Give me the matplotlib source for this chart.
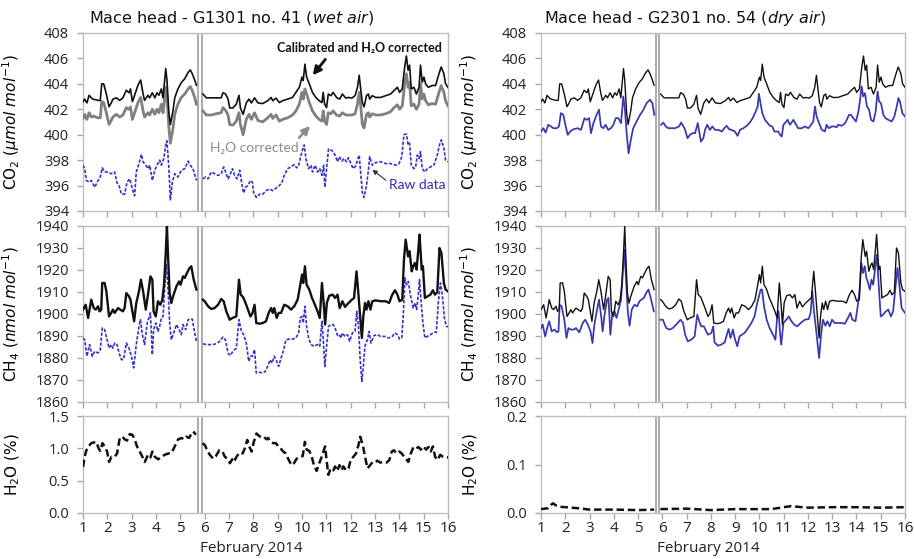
import numpy as np
import matplotlib
matplotlib.use('Agg')
import matplotlib.pyplot as plt

plt.rcParams['font.family'] = 'DejaVu Sans'

# ---------------- data (days of February 2014) ----------------
GAP = 5.78
gap_lines = [5.72, 5.88]

# CO2 calibrated + H2O corrected (same on both analysers) and wet-air H2O corrected
co2_t = [1.00, 1.07, 1.16, 1.25, 1.34, 1.41, 1.62, 1.71, 1.77, 1.85, 1.96, 2.07, 2.16, 2.23, 2.37, 2.51,
         2.64, 2.78, 2.89, 2.95, 3.03, 3.12, 3.26, 3.37, 3.47, 3.53, 3.67, 3.74, 3.85, 3.95, 4.04, 4.12,
         4.22, 4.29, 4.40, 4.45, 4.53, 4.59, 4.70, 4.77, 4.90, 5.04, 5.18, 5.32, 5.41, 5.49, 5.59, 5.66,
         5.93, 6.07, 6.27, 6.48, 6.68, 6.75, 6.86, 6.96, 7.03, 7.16, 7.30, 7.41, 7.47, 7.58, 7.71, 7.82,
         7.92, 8.05, 8.19,
         8.39, 8.59, 8.73, 8.80, 8.93, 9.07, 9.20, 9.41, 9.61, 9.75, 9.89, 10.00, 10.05, 10.12, 10.19,
         10.30, 10.43, 10.57, 10.71, 10.82, 10.87, 10.93, 11.01, 11.08, 11.19, 11.28, 11.42, 11.55,
         11.66, 11.80, 11.91, 12.05, 12.18, 12.28, 12.35, 12.42, 12.48, 12.55, 12.65, 12.73, 12.78,
         12.89, 13.03, 13.23, 13.44, 13.64, 13.78, 13.92, 14.01, 14.12, 14.22, 14.29, 14.36, 14.42,
         14.49, 14.60, 14.70, 14.81, 14.87, 14.94, 15.01, 15.08, 15.19, 15.35, 15.49, 15.63, 15.72,
         15.83, 15.90, 16.00]
co2_cal = [402.6, 402.8, 402.5, 403.1, 402.9, 402.8, 402.7, 402.7, 404.0, 404.0, 403.2, 402.2, 402.5,
           402.8, 402.9, 402.7, 402.9, 403.5, 403.3, 403.6, 402.6, 403.1, 403.9, 404.3, 403.2, 402.7,
           403.1, 402.9, 403.3, 402.9, 403.3, 403.1, 403.6, 402.9, 405.2, 404.3, 401.7, 400.8, 401.9,
           402.9, 403.6, 404.1, 404.4, 404.9, 405.1, 404.8, 404.3, 403.9,
           403.2, 402.9, 402.9, 402.9, 402.9, 403.3, 403.2, 402.8, 402.1, 402.1, 402.4, 403.1, 402.1,
           401.6, 402.5, 402.8, 402.5, 402.9, 402.5,
           402.45, 402.67, 402.93, 402.67, 402.88, 402.53, 402.67, 402.8, 402.93, 403.33,
           403.73, 404.53, 404.27, 405.55, 404.53, 404.0, 403.33, 402.93, 402.67, 402.53,
           403.33, 402.4, 402.13, 403.2, 403.07, 403.33, 402.93, 402.8, 403.2, 402.88,
           402.93, 402.88, 403.07, 403.73, 404.67, 403.47, 402.53, 402.19, 403.07, 403.2,
           402.8, 403.07, 402.93, 402.93, 403.07, 403.2, 403.47, 403.73, 403.33, 403.6,
           405.33, 406.19, 405.07, 405.47, 403.6, 403.73, 403.2, 403.73, 405.47, 404.13,
           404.53, 404.0, 403.73, 403.87, 403.87, 404.8, 405.33, 404.8, 404.0, 403.73]
co2_h2o = [401.28, 401.6, 401.2, 401.73, 401.39, 401.47, 401.33, 401.33, 402.61, 402.53,
           401.73, 400.8, 401.12, 401.39, 401.6, 401.39, 401.55, 402.13, 402.0, 402.19,
           401.2, 401.73, 402.53, 402.93, 401.87, 401.39, 401.73, 401.55, 402.0, 401.6,
           402.0, 401.73, 402.4, 401.73, 403.73, 402.93, 400.53, 399.33, 400.53, 401.6,
           402.4, 402.93, 403.2, 403.6, 403.79, 403.47, 402.93, 402.4,
           401.87, 401.55, 401.55, 401.65, 401.73, 402.13, 401.92, 401.55, 400.8, 400.75,
           401.07, 401.73, 400.8, 400.0, 401.2, 401.6, 401.2, 401.73, 401.12,
           401.01, 401.33, 401.6, 401.28, 401.55, 401.07, 401.2, 401.33, 401.55, 401.87,
           402.4, 403.33, 402.8, 403.6, 403.2, 402.53, 401.87, 401.47, 401.2, 401.07,
           401.87, 401.07, 400.8, 401.73, 401.65, 401.87, 401.55, 401.47, 401.73, 401.55,
           401.55, 401.55, 401.65, 402.4, 403.33, 402.13, 400.8, 400.53, 401.6, 401.73,
           401.39, 401.65, 401.55, 401.55, 401.65, 401.81, 402.13, 402.35, 402.0, 402.27,
           404.0, 404.8, 403.73, 404.13, 402.27, 402.4, 402.0, 402.4, 404.0, 402.8,
           403.2, 402.67, 402.35, 402.45, 402.4, 403.33, 403.87, 403.33, 402.67, 402.27]

# CO2 raw data, G1301 (wet air)
co2raw_t = [1.00, 1.07, 1.14, 1.25, 1.34, 1.48, 1.62, 1.71, 1.79, 1.89, 2.03, 2.16, 2.30, 2.40, 2.48,
            2.58, 2.71, 2.81, 2.92, 3.03, 3.12, 3.19, 3.30, 3.40, 3.47, 3.58, 3.67, 3.74, 3.85, 3.95,
            4.04, 4.15, 4.22, 4.32, 4.40, 4.45, 4.53, 4.59, 4.67, 4.77, 4.90, 5.04, 5.18, 5.32, 5.41,
            5.52, 5.66,
            5.93, 6.04, 6.14, 6.27, 6.41, 6.55, 6.68, 6.78, 6.86, 6.96, 7.03, 7.14, 7.23, 7.33, 7.44,
            7.55, 7.60, 7.68, 7.78, 7.88, 7.96, 8.01, 8.12, 8.26,
            8.39, 8.52, 8.66, 8.80, 8.93, 9.07, 9.18, 9.27, 9.41, 9.55, 9.68, 9.78, 9.86, 9.96, 10.02,
            10.09, 10.16, 10.27, 10.37, 10.43, 10.54, 10.64, 10.73, 10.82, 10.89, 10.94, 11.01, 11.09,
            11.19, 11.28, 11.36, 11.46, 11.53, 11.64, 11.73, 11.83, 11.91, 12.01, 12.10, 12.21, 12.28,
            12.35, 12.42, 12.48, 12.55, 12.65, 12.73, 12.78, 12.89, 13.03, 13.23, 13.44, 13.64, 13.85,
            13.99, 14.10, 14.19, 14.29, 14.36, 14.42, 14.49, 14.60, 14.67, 14.74, 14.81, 14.87, 14.94,
            15.05, 15.15, 15.28, 15.42, 15.56, 15.65, 15.73, 15.83, 15.90, 16.00]
co2_raw = [397.6, 397.33, 396.4, 396.27, 396.4, 395.87, 396.4, 396.67, 397.39, 397.07,
           397.07, 396.93, 397.07, 396.21, 396.0, 395.33, 395.33, 396.27, 396.53, 395.73,
           395.2, 397.07, 397.73, 398.45, 397.87, 397.6, 397.33, 397.6, 396.4, 397.2,
           397.6, 398.0, 397.6, 398.13, 399.2, 399.52, 397.33, 394.88, 396.27, 396.93,
           396.67, 397.2, 397.33, 397.92, 397.6, 397.33, 396.4,
           396.53, 396.67, 396.53, 397.07, 396.93, 396.8, 396.93, 397.47, 397.07, 396.53,
           396.8, 397.33, 396.8, 396.53, 397.2, 395.87, 395.41, 395.87, 396.0, 396.4,
           396.27, 395.47, 395.07, 395.33,
           395.33, 395.6, 395.73, 395.6, 395.79, 396.0, 396.27, 396.8, 397.33, 397.47,
           397.65, 397.39, 397.55, 398.4, 398.8, 399.2, 398.13, 397.33, 397.6, 397.07,
           397.6, 397.07, 397.33, 396.8, 397.6, 395.87, 397.33, 398.88, 398.8, 398.67,
           398.4, 397.87, 398.27, 397.92, 398.13, 397.87, 398.19, 397.73, 397.33, 397.55,
           398.0, 398.4, 396.8, 395.47, 395.07, 396.0, 397.2, 398.27, 397.6, 397.81,
           397.87, 397.73, 397.73, 397.6, 397.73, 398.27, 400.0, 400.05, 399.2, 399.33,
           397.6, 397.33, 397.47, 398.4, 398.13, 398.67, 397.33, 397.07, 397.33, 397.47,
           397.6, 398.4, 399.2, 399.6, 398.93, 398.0, 397.87]

# CO2 G2301 (dry air)
co2dry_t = [1.00, 1.10, 1.19, 1.30, 1.41, 1.51, 1.65, 1.74, 1.82, 1.92, 2.02, 2.10, 2.20, 2.33, 2.51,
            2.65, 2.79, 2.88, 2.98, 3.06, 3.16, 3.29, 3.39, 3.47, 3.57, 3.66, 3.77, 3.88, 3.98, 4.08,
            4.19, 4.30, 4.39, 4.46, 4.54, 4.61, 4.70, 4.80, 4.94, 5.08, 5.22, 5.35, 5.49, 5.59, 5.67,
            5.95, 6.04, 6.14, 6.25, 6.38, 6.52, 6.69, 6.77, 6.87, 6.93, 7.04, 7.14, 7.24, 7.35, 7.46,
            7.52, 7.59, 7.69, 7.76, 7.85, 7.96, 8.06, 8.17, 8.31, 8.45, 8.55, 8.65, 8.75, 8.86, 8.99,
            9.10, 9.20, 9.34, 9.48, 9.61, 9.72, 9.82, 9.93, 9.98, 10.07, 10.12, 10.23, 10.34, 10.44,
            10.53, 10.62, 10.71, 10.78, 10.85, 10.92, 10.99, 11.05, 11.16, 11.26, 11.40, 11.49, 11.60,
            11.74, 11.88, 12.02, 12.13, 12.22, 12.29, 12.36, 12.46, 12.57, 12.63, 12.70, 12.77, 12.87,
            12.98, 13.09, 13.18, 13.25, 13.39, 13.53, 13.60, 13.69, 13.77, 13.87, 13.98, 14.08, 14.15,
            14.21, 14.28, 14.35, 14.43, 14.52, 14.60, 14.70, 14.79, 14.87, 14.93, 15.01, 15.11, 15.20,
            15.31, 15.45, 15.56, 15.66, 15.73, 15.79, 15.89, 16.00]
co2_dry = [400.25, 400.51, 400.17, 400.78, 400.65, 400.51, 400.51, 400.65, 401.7, 401.56,
           400.65, 399.99, 400.25, 400.43, 400.51, 400.38, 401.3, 401.17, 401.3, 400.12,
           400.91, 401.56, 401.96, 400.65, 400.51, 400.78, 400.38, 400.51, 400.78, 401.3,
           401.3, 400.91, 403.01, 401.96, 399.86, 398.54, 399.59, 400.51, 401.04, 401.56,
           401.96, 402.48, 402.75, 402.48, 401.56,
           400.78, 400.96, 400.65, 400.51, 400.51, 400.51, 400.65, 400.96, 400.65, 400.43,
           399.73, 399.99, 400.12, 400.12, 400.91, 400.25, 399.46, 399.73, 400.38, 400.78,
           400.38, 400.65, 400.38, 400.38, 400.25, 400.51, 400.7, 400.43, 400.38, 400.25,
           399.91, 400.38, 400.51, 400.7, 400.96, 401.3, 401.7, 402.22, 403.22, 402.22,
           401.7, 401.17, 400.91, 400.7, 400.65, 400.25, 400.25, 400.25, 399.99, 399.86,
           400.78, 400.91, 401.17, 400.78, 401.17, 400.86, 400.51, 400.51, 400.65, 400.51,
           400.78, 401.04, 402.22, 401.43, 400.91, 400.38, 400.33, 400.25, 400.78, 400.51,
           400.65, 400.65, 400.59, 400.78, 400.7, 400.91, 401.17, 401.56, 401.56, 401.3,
           401.04, 401.83, 402.75, 403.8, 403.01, 403.27, 402.22, 401.96, 401.17, 401.04,
           401.83, 403.4, 402.62, 402.48, 401.56, 401.3, 401.17, 401.04, 401.43, 402.22,
           402.88, 402.62, 401.7, 401.43]

# CH4 calibrated + H2O corrected
ch4_t = [1.00, 1.11, 1.21, 1.34, 1.44, 1.52, 1.62, 1.68, 1.75, 1.79, 1.89, 1.96, 2.07, 2.16, 2.23,
         2.30, 2.44, 2.53, 2.64, 2.71, 2.78, 2.89, 2.95, 3.03, 3.10, 3.19, 3.30, 3.38, 3.47, 3.58,
         3.67, 3.77, 3.85, 3.90, 3.99, 4.08, 4.18, 4.26, 4.33, 4.40, 4.45, 4.49, 4.56, 4.63, 4.70,
         4.84, 4.95, 5.01, 5.11, 5.18, 5.27, 5.38, 5.45, 5.55, 5.66,
         5.93, 6.00, 6.14, 6.27, 6.41, 6.55, 6.68, 6.78, 6.89, 7.03, 7.14, 7.30, 7.41, 7.48, 7.58,
         7.68, 7.78, 7.88, 7.96, 8.05, 8.12, 8.26,
         8.39, 8.52, 8.63, 8.73, 8.80, 8.86, 8.96, 9.04, 9.14, 9.27, 9.41, 9.55, 9.68, 9.82, 9.92,
         10.00, 10.05, 10.12, 10.19, 10.30, 10.41, 10.50, 10.64, 10.73, 10.82, 10.89, 10.95, 11.02,
         11.12, 11.26, 11.36, 11.46, 11.55, 11.66, 11.77, 11.91, 12.05, 12.14, 12.24, 12.32, 12.39,
         12.46, 12.52, 12.59, 12.65, 12.73, 12.81, 12.89, 13.03, 13.23, 13.44, 13.58, 13.71, 13.82,
         13.92, 14.01, 14.12, 14.19, 14.26, 14.36, 14.42, 14.51, 14.57, 14.64, 14.71, 14.78, 14.83,
         14.92, 14.97, 15.05, 15.15, 15.28, 15.38, 15.46, 15.56, 15.65, 15.73, 15.83, 15.90, 16.00]
ch4_cal = [1902.0, 1904.2, 1898.2, 1906.5, 1902.7, 1902.0, 1903.5, 1901.2, 1902.0, 1914.1,
           1914.1, 1910.3, 1898.9, 1900.5, 1902.0, 1900.5, 1902.7, 1902.0, 1901.2, 1902.7,
           1909.5, 1908.0, 1906.5, 1901.2, 1896.7, 1905.0, 1910.3, 1915.6, 1910.3, 1902.0,
           1908.8, 1917.1, 1915.6, 1901.2, 1898.9, 1905.8, 1904.2, 1906.5, 1913.3, 1927.7,
           1939.8, 1927.7, 1909.5, 1905.0, 1908.0, 1912.6, 1914.8, 1913.3, 1917.1, 1916.4,
           1918.6, 1920.9, 1921.7, 1915.6, 1911.1,
           1906.5, 1905.8, 1903.5, 1902.3, 1902.7, 1904.2, 1906.8, 1905.8, 1901.2, 1897.4,
           1898.2, 1898.9, 1915.6, 1908.8, 1907.7, 1905.0, 1902.0, 1898.9, 1900.2, 1904.2,
           1895.9, 1895.6,
           1895.9, 1896.7, 1900.5, 1902.7, 1900.5, 1902.7, 1898.2, 1900.5, 1900.5, 1904.2,
           1903.5, 1902.0, 1903.5, 1906.5, 1912.6, 1917.9, 1914.1, 1921.7, 1913.3, 1911.1,
           1907.3, 1905.0, 1901.2, 1898.2, 1914.1, 1905.0, 1895.2, 1905.0, 1908.3, 1908.8,
           1907.3, 1908.8, 1902.7, 1905.8, 1903.2, 1905.0, 1906.5, 1907.3, 1919.4, 1908.8,
           1898.9, 1889.1, 1898.9, 1905.0, 1902.0, 1905.8, 1902.0, 1905.8, 1906.2, 1905.8,
           1905.8, 1905.0, 1908.8, 1910.8, 1908.8, 1905.8, 1906.5, 1924.7, 1933.8, 1926.2,
           1928.5, 1919.4, 1921.7, 1923.2, 1920.2, 1929.2, 1936.1, 1920.2, 1921.7, 1907.3,
           1908.0, 1908.8, 1910.8, 1908.8, 1909.8, 1930.0, 1927.7, 1914.1, 1911.1, 1910.3]

# CH4 raw data, G1301 (wet air)
ch4raw_t = [1.00, 1.07, 1.16, 1.27, 1.38, 1.48, 1.62, 1.71, 1.79, 1.89, 1.99, 2.07, 2.16, 2.23, 2.30,
            2.40, 2.48, 2.58, 2.67, 2.78, 2.89, 2.99, 3.08, 3.19, 3.30, 3.36, 3.44, 3.53, 3.64, 3.77,
            3.85, 3.90, 3.99, 4.08, 4.15, 4.22, 4.29, 4.36, 4.42, 4.49, 4.56, 4.63, 4.73, 4.84, 4.95,
            5.04, 5.11, 5.22, 5.32, 5.41, 5.49, 5.59, 5.66,
            5.93, 6.04, 6.21, 6.34, 6.48, 6.62, 6.75, 6.85, 6.96, 7.05, 7.16, 7.30, 7.41, 7.51, 7.60,
            7.71, 7.81, 7.88, 7.96, 8.05, 8.12, 8.26,
            8.39, 8.49, 8.59, 8.69, 8.77, 8.86, 8.96, 9.04, 9.14, 9.23, 9.34, 9.48, 9.61, 9.75, 9.86,
            9.93, 10.00, 10.05, 10.12, 10.19, 10.27, 10.37, 10.50, 10.64, 10.73, 10.82, 10.89, 10.94,
            11.01, 11.09, 11.19, 11.28, 11.36, 11.46, 11.53, 11.60, 11.66, 11.77, 11.87, 11.96, 12.07,
            12.18, 12.25, 12.32, 12.39, 12.46, 12.52, 12.59, 12.69, 12.76, 12.83, 12.96, 13.10, 13.23,
            13.41, 13.55, 13.71, 13.82, 13.92, 14.01, 14.10, 14.16, 14.23, 14.30, 14.37, 14.44, 14.51,
            14.57, 14.64, 14.71, 14.78, 14.83, 14.90, 14.97, 15.05, 15.15, 15.28, 15.42, 15.52, 15.60,
            15.69, 15.76, 15.86, 15.94, 16.00]
ch4_raw = [1889.1, 1888.3, 1880.8, 1886.1, 1880.8, 1883.0, 1882.3, 1883.8, 1893.6, 1892.9,
           1888.3, 1884.5, 1886.1, 1884.5, 1886.8, 1886.1, 1882.3, 1879.2, 1879.5, 1886.8,
           1884.5, 1880.8, 1875.5, 1886.1, 1894.4, 1897.4, 1890.6, 1886.1, 1895.9, 1900.5,
           1881.5, 1892.9, 1895.9, 1892.1, 1894.4, 1898.2, 1898.9, 1912.6, 1922.4, 1912.6,
           1895.9, 1888.3, 1891.4, 1895.2, 1892.9, 1890.6, 1895.2, 1892.9, 1897.4, 1897.7,
           1897.7, 1891.4, 1887.6,
           1886.5, 1886.1, 1886.1, 1886.1, 1886.5, 1887.6, 1889.5, 1888.3, 1882.3, 1881.1,
           1883.0, 1884.5, 1897.4, 1892.1, 1890.6, 1886.8, 1878.5, 1880.8, 1880.8, 1883.8,
           1873.2, 1873.5,
           1873.2, 1873.9, 1876.2, 1879.2, 1877.7, 1880.8, 1878.5, 1876.2, 1880.0, 1883.0,
           1888.3, 1888.6, 1888.6, 1889.1, 1891.4, 1898.2, 1898.9, 1895.9, 1903.5, 1894.4,
           1889.1, 1886.1, 1885.3, 1886.1, 1885.3, 1896.7, 1885.3, 1876.2, 1885.3, 1894.4,
           1895.2, 1895.2, 1893.6, 1890.2, 1890.6, 1889.1, 1891.4, 1889.8, 1890.6, 1887.6,
           1891.4, 1892.1, 1901.2, 1894.4, 1879.2, 1869.4, 1876.2, 1885.6, 1888.3, 1892.1,
           1886.8, 1890.2, 1890.6, 1889.8, 1889.8, 1889.1, 1889.8, 1891.4, 1890.6, 1888.6,
           1889.1, 1898.9, 1916.4, 1913.3, 1914.8, 1909.5, 1905.8, 1902.7, 1905.0, 1902.0,
           1908.8, 1915.6, 1905.0, 1895.9, 1889.1, 1889.8, 1890.6, 1891.7, 1891.7, 1905.0,
           1914.1, 1909.5, 1897.4, 1894.4, 1894.1]

# CH4 G2301 (dry air)
ch4dry_t = [1.00, 1.07, 1.17, 1.28, 1.34, 1.44, 1.55, 1.66, 1.72, 1.77, 1.85, 1.96, 2.05, 2.13, 2.24,
            2.35, 2.44, 2.58, 2.72, 2.82, 2.93, 3.04, 3.12, 3.20, 3.31, 3.39, 3.48, 3.54, 3.61, 3.72,
            3.78, 3.86, 3.94, 4.03, 4.11, 4.20, 4.30, 4.37, 4.44, 4.49, 4.58, 4.65, 4.74, 4.85, 4.96,
            5.06, 5.13, 5.24, 5.33, 5.43, 5.54, 5.65,
            5.92, 6.02, 6.16, 6.30, 6.43, 6.57, 6.75, 6.85, 6.94, 7.05, 7.19, 7.33, 7.44, 7.52, 7.60,
            7.71, 7.81, 7.88, 8.02, 8.10, 8.15, 8.29, 8.43, 8.57, 8.68, 8.73, 8.81, 8.91, 8.98, 9.09,
            9.18, 9.28, 9.39, 9.53, 9.67, 9.80, 9.91, 10.00, 10.05, 10.11, 10.19, 10.30, 10.42, 10.56,
            10.66, 10.74, 10.79, 10.85, 10.90, 10.99, 11.11, 11.21, 11.32, 11.43, 11.56, 11.70, 11.87,
            12.03, 12.11, 12.18, 12.25, 12.35, 12.46, 12.55, 12.62, 12.72, 12.80, 12.90, 12.99, 13.10,
            13.24, 13.38, 13.52, 13.65, 13.75, 13.83, 13.96, 14.07, 14.14, 14.20, 14.27, 14.34, 14.41,
            14.48, 14.55, 14.62, 14.69, 14.78, 14.84, 14.92, 15.00, 15.10, 15.21, 15.31, 15.42, 15.51,
            15.61, 15.69, 15.76, 15.86, 16.00]
ch4_dry = [1893.6, 1895.2, 1889.8, 1894.7, 1896.7, 1892.1, 1892.9, 1891.7, 1892.1, 1904.2,
           1903.5, 1897.4, 1889.1, 1893.6, 1892.9, 1892.9, 1893.6, 1891.7, 1895.9, 1897.4,
           1895.2, 1892.1, 1886.8, 1895.2, 1902.0, 1906.5, 1898.9, 1892.1, 1898.9, 1906.5,
           1907.3, 1890.6, 1900.5, 1901.2, 1898.2, 1902.0, 1906.5, 1918.6, 1929.2, 1918.6,
           1900.5, 1894.7, 1902.0, 1904.2, 1903.5, 1905.8, 1906.5, 1907.3, 1909.5, 1911.1,
           1906.5, 1901.2,
           1897.4, 1897.4, 1893.6, 1892.9, 1893.6, 1895.2, 1897.4, 1895.9, 1890.6, 1887.6,
           1888.3, 1889.8, 1899.7, 1896.7, 1894.4, 1894.4, 1892.1, 1890.6, 1891.4, 1894.4,
           1887.1, 1885.6, 1886.1, 1887.1, 1891.4, 1893.2, 1889.1, 1892.9, 1889.1, 1885.3,
           1889.8, 1890.6, 1891.4, 1893.6, 1895.9, 1898.9, 1905.0, 1908.8, 1911.1, 1911.1,
           1903.5, 1897.4, 1893.6, 1890.6, 1888.3, 1899.7, 1901.2, 1891.4, 1886.1, 1895.9,
           1897.4, 1898.9, 1896.7, 1895.2, 1894.4, 1895.9, 1897.4, 1897.7, 1900.5, 1910.3,
           1901.2, 1891.4, 1880.0, 1891.4, 1897.4, 1894.7, 1896.7, 1894.4, 1897.4, 1895.9,
           1895.9, 1895.9, 1895.6, 1898.2, 1900.5, 1897.4, 1896.7, 1905.0, 1912.6, 1923.2,
           1918.6, 1921.7, 1916.4, 1914.1, 1911.1, 1915.6, 1913.3, 1921.7, 1927.0, 1912.6,
           1898.9, 1899.7, 1901.2, 1902.0, 1898.9, 1901.2, 1912.6, 1920.9, 1914.1, 1902.7,
           1900.5]

# H2O (%), G1301 wet air
h2o_t = [1.00, 1.07, 1.14, 1.25, 1.34, 1.44, 1.55, 1.64, 1.71, 1.80, 1.89, 1.99, 2.07, 2.17, 2.30,
         2.40, 2.51, 2.62, 2.71, 2.81, 2.92, 3.03, 3.13, 3.22, 3.33, 3.44, 3.54, 3.67, 3.77, 3.85,
         3.95, 4.09, 4.22, 4.36, 4.50, 4.64, 4.77, 4.91, 5.05, 5.14, 5.25, 5.36, 5.46, 5.53, 5.64,
         5.91, 6.01, 6.10, 6.21, 6.35, 6.46, 6.60, 6.73, 6.83, 6.93, 7.04, 7.13, 7.20, 7.31, 7.42,
         7.56, 7.65, 7.75, 7.83, 7.93, 8.02, 8.13, 8.24, 8.34, 8.43, 8.54, 8.61, 8.71, 8.82, 8.93,
         9.02, 9.12, 9.23, 9.34, 9.44, 9.57, 9.67, 9.78, 9.92, 10.03, 10.12, 10.19, 10.30, 10.40,
         10.49, 10.60, 10.71, 10.81, 10.95, 11.01, 11.08, 11.18, 11.29, 11.36, 11.45, 11.54, 11.63,
         11.70, 11.81, 11.91, 12.00, 12.11, 12.22, 12.32, 12.39, 12.50, 12.59, 12.69, 12.80, 12.91,
         13.00, 13.10, 13.21, 13.35, 13.48, 13.59, 13.69, 13.78, 13.89, 14.00, 14.10, 14.20, 14.31,
         14.37, 14.47, 14.58, 14.69, 14.79, 14.88, 14.99, 15.10, 15.20, 15.29, 15.38, 15.47, 15.57,
         15.68, 15.79, 15.88, 16.00]
h2o_wet = [0.71, 0.87, 0.97, 1.04, 1.08, 1.09, 1.10, 1.00, 0.96, 1.08, 1.03, 0.95, 0.79, 0.87, 0.87,
           0.92, 1.16, 1.18, 1.14, 1.12, 1.22, 1.21, 1.13, 1.03, 0.95, 0.87, 0.79, 0.90, 0.86, 0.95,
           0.87, 0.83, 0.87, 0.90, 0.92, 0.93, 1.03, 1.14, 1.16, 1.14, 1.18, 1.16, 1.23, 1.26, 1.21,
           1.08, 1.05, 0.97, 0.90, 0.84, 0.88, 0.97, 0.95, 0.87, 0.84, 0.77, 0.83, 0.79, 0.87, 0.93,
           0.92, 1.00, 1.13, 1.03, 0.95, 1.10, 1.23, 1.19, 1.17, 1.18, 1.14, 1.16, 1.10, 1.08, 1.08,
           1.03, 1.00, 0.95, 0.92, 0.83, 0.74, 0.77, 0.84, 0.87, 0.88, 1.10, 0.98, 0.96, 0.87,
           0.74, 0.65, 0.77, 0.87, 1.03, 0.82, 0.59, 0.69, 0.66, 0.72, 0.65, 0.74, 0.66,
           0.72, 0.66, 0.69, 0.82, 0.87, 0.92, 1.05, 1.18, 1.05, 0.87, 0.69, 0.74, 0.79,
           0.78, 0.81, 0.78, 0.79, 0.78, 0.82, 0.95, 0.97, 0.92, 0.95, 0.92, 0.87, 0.82,
           0.79, 0.92, 1.02, 1.00, 1.02, 0.98, 1.03, 0.98, 1.02, 0.95, 1.03, 0.87, 0.82,
           0.90, 0.87, 0.86, 0.86]

# H2O (%), G2301 dry air
h2odry_t = [1.00, 1.30, 1.42, 1.50, 1.60, 1.75, 2.00, 2.50, 3.00, 4.00, 5.00, 5.66,
            5.92, 7.00, 8.00, 9.00, 10.00, 10.50, 11.00, 11.30, 12.00, 13.00, 14.00, 15.00, 16.00]
h2o_dry = [0.008, 0.010, 0.017, 0.020, 0.016, 0.013, 0.012, 0.010, 0.007, 0.007, 0.006, 0.007,
           0.008, 0.009, 0.006, 0.008, 0.008, 0.008, 0.012, 0.014, 0.011, 0.012, 0.012, 0.011, 0.012]

days = list(range(1, 17))

# ---------------- figure ----------------
W, H = 914, 559
fig = plt.figure(figsize=(W / 100, H / 100), dpi=100)

cols = [(83, 448), (541, 905)]
rows = [(33, 211), (226, 402), (416, 513)]

BLUE = '#3333cc'
GRAY_SP = '#bfbfbf'


def make_ax(c, r):
    x0, x1 = cols[c]
    y0, y1 = rows[r]
    ax = fig.add_axes([x0 / W, 1 - y1 / H, (x1 - x0) / W, (y1 - y0) / H])
    for sp in ax.spines.values():
        sp.set_color(GRAY_SP)
        sp.set_linewidth(1.0)
    ax.set_xlim(1, 16)
    ax.set_xticks(days)
    ax.tick_params(axis='both', colors='#a6a6a6', labelcolor='#222222', length=4, width=1,
                   labelsize=10.5, direction='out')
    ax.tick_params(axis='y', pad=6)
    ax.tick_params(axis='x', pad=2)
    for x in gap_lines:
        ax.axvline(x, color='#a6a6a6', lw=1.3, zorder=1)
    ax.yaxis.set_label_coords(-61 / (x1 - x0), 0.5)
    return ax


def plot_seg(ax, t, v, **kw):
    t = np.asarray(t, float)
    v = np.asarray(v, float)
    for m in (t < GAP, t > GAP):
        ax.plot(t[m], v[m], **kw)


def fonts(ax):
    for lab in ax.get_xticklabels() + ax.get_yticklabels():
        lab.set_family('Open Sans')


co2_lab = r'CO$_2$ $\mathit{(\mu mol\ mol^{-1})}$'
ch4_lab = r'CH$_4$ $\mathit{(nmol\ mol^{-1})}$'
h2o_lab = r'H$_2$O $\mathit{(\%)}$'

for c in range(2):
    # CO2
    ax = make_ax(c, 0)
    ax.set_ylim(394, 408)
    ax.set_yticks(np.arange(394, 409, 2))
    ax.set_xticklabels([])
    ax.set_ylabel(co2_lab, fontsize=11)
    if c == 0:
        plot_seg(ax, co2raw_t, co2_raw, color=BLUE, lw=1.2, ls=(0, (2, 1)), zorder=3)
        plot_seg(ax, co2_t, co2_h2o, color='#808080', lw=2.0, zorder=3)
        plot_seg(ax, co2_t, co2_cal, color='#111111', lw=1.2, zorder=4)
        ax.text(12.38, 406.8, 'Calibrated and H₂O corrected', fontsize=9, fontweight='bold',
                family=['Lato', 'DejaVu Sans'], ha='center', va='center', color='#111111')
        ax.annotate('', xy=(10.37, 404.5), xytext=(11.03, 406.1),
                    arrowprops=dict(arrowstyle='-|>', color='#111111', lw=2.0, mutation_scale=12))
        ax.text(8.03, 398.95, 'H₂O corrected', fontsize=10, family=['Lato', 'DejaVu Sans'],
                ha='center', va='center', color='#8c8c8c')
        ax.annotate('', xy=(10.41, 400.84), xytext=(9.80, 399.6),
                    arrowprops=dict(arrowstyle='-|>', color='#8c8c8c', lw=1.8, mutation_scale=12))
        ax.text(14.73, 396.04, 'Raw data', fontsize=10, family=['Lato', 'DejaVu Sans'],
                ha='center', va='center', color='#2b2bbf')
        ax.annotate('', xy=(12.80, 397.38), xytext=(13.54, 396.28),
                    arrowprops=dict(arrowstyle='-|>', color='#333333', lw=0.8, mutation_scale=7))
    else:
        plot_seg(ax, co2dry_t, co2_dry, color='#4a4ac4', lw=1.3, zorder=3)
        plot_seg(ax, co2dry_t, co2_dry, color='#1e1e8a', lw=0.6, ls=(0, (1, 1)), zorder=3)
        plot_seg(ax, co2_t, co2_cal, color='#111111', lw=1.0, zorder=4)
    fonts(ax)

    # CH4
    ax = make_ax(c, 1)
    ax.set_ylim(1860, 1940)
    ax.set_yticks(np.arange(1860, 1941, 10))
    ax.set_xticklabels([])
    ax.set_ylabel(ch4_lab, fontsize=11)
    if c == 0:
        plot_seg(ax, ch4raw_t, ch4_raw, color=BLUE, lw=1.2, ls=(0, (2, 1)), zorder=3)
        plot_seg(ax, ch4_t, ch4_cal, color='#111111', lw=1.7, zorder=4)
    else:
        plot_seg(ax, ch4dry_t, ch4_dry, color='#4a4ac4', lw=1.3, zorder=3)
        plot_seg(ax, ch4dry_t, ch4_dry, color='#1e1e8a', lw=0.6, ls=(0, (1, 1)), zorder=3)
        plot_seg(ax, ch4_t, ch4_cal, color='#111111', lw=1.0, zorder=4)
    fonts(ax)

    # H2O
    ax = make_ax(c, 2)
    if c == 0:
        ax.set_ylim(0, 1.5)
        ax.set_yticks([0.0, 0.5, 1.0, 1.5])
        ax.set_yticklabels(['0.0', '0.5', '1.0', '1.5'])
        plot_seg(ax, h2o_t, h2o_wet, color='#111111', lw=1.8, ls=(0, (3, 1.5)), zorder=3)
    else:
        ax.set_ylim(0, 0.2)
        ax.set_yticks([0.0, 0.1, 0.2])
        ax.set_yticklabels(['0.0', '0.1', '0.2'])
        plot_seg(ax, h2odry_t, h2o_dry, color='#111111', lw=1.8, ls=(0, (3, 1.5)), zorder=3)
    ax.set_ylabel(h2o_lab, fontsize=11)
    ax.set_xticklabels([str(d) for d in days])
    ax.tick_params(axis='x', labelsize=11)
    fonts(ax)

# titles
fig.text(89 / W, 1 - 18 / H, r'Mace head - G1301 no. 41 $\mathit{(wet\ air)}$', fontsize=11.5,
         ha='left', va='center', color='#111111')
fig.text(544 / W, 1 - 18 / H, r'Mace head - G2301 no. 54 $\mathit{(dry\ air)}$', fontsize=11.5,
         ha='left', va='center', color='#111111')
# x labels
fig.text(251 / W, 1 - 548 / H, 'February 2014', fontsize=11, family='Open Sans',
         ha='center', va='center', color='#222222')
fig.text(708 / W, 1 - 548 / H, 'February 2014', fontsize=11, family='Open Sans',
         ha='center', va='center', color='#222222')

fig.savefig('out.png', dpi=100)
